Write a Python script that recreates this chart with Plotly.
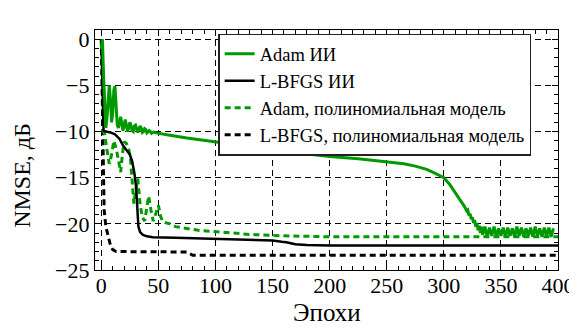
import plotly.graph_objects as go

# ---- data ----
adam_nn_x = [0, 1, 2, 3, 4, 5, 6, 7, 8, 9, 10, 11, 12, 13, 14, 15, 16, 17, 18, 19, 20,
             21, 22, 23, 24, 25, 26, 27, 28, 29, 30, 31, 32, 33, 34, 35, 36, 37, 38, 39,
             40, 41, 42, 43, 44, 45, 46, 48, 50, 60, 75, 100, 125, 150, 175, 200, 225,
             250, 265, 275, 285, 292, 300, 305, 310, 315, 318, 320, 321, 322, 323, 324,
             325, 326, 327, 328, 329, 330, 331, 332, 333, 334, 336, 338, 340, 342, 344,
             346, 348, 350, 352, 354, 356, 358, 360, 362, 364, 366, 368, 370, 372, 374,
             376, 378, 380, 382, 384, 386, 388, 390, 392, 394, 396, 398, 400]
adam_nn_y = [-1.0, 0.0, -4.0, -8.0, -9.6, -8.5, -6.0, -5.0, -6.5, -9.0, -8.0, -5.5, -5.1,
             -7.0, -9.3, -9.6, -8.8, -8.4, -9.2, -9.9, -9.3, -8.7, -9.3, -10.0, -9.6,
             -9.0, -9.3, -9.9, -10.0, -9.4, -9.3, -9.8, -10.1, -9.7, -9.4, -9.6, -10.1,
             -10.0, -9.7, -9.8, -10.15, -10.05, -9.9, -10.0, -10.2, -10.1, -10.05,
             -10.15, -10.2, -10.4, -10.7, -11.1, -11.55, -12.0, -12.35, -12.7, -12.95,
             -13.25, -13.5, -13.75, -14.1, -14.5, -15.0, -15.7, -16.6, -17.6, -18.1,
             -18.6, -18.5, -19.1, -18.9, -19.5, -19.3, -19.9, -19.6, -20.3, -19.9,
             -20.7, -20.2, -21.0, -20.3, -21.2, -20.3, -21.4, -20.4, -21.3, -20.3,
             -21.4, -20.5, -21.3, -20.4, -21.4, -20.4, -21.3, -20.5, -21.4, -20.3,
             -21.3, -20.4, -21.4, -20.5, -21.3, -20.4, -21.4, -20.3, -21.3, -20.5,
             -21.4, -20.4, -21.3, -20.4, -21.4, -20.5]

lbfgs_nn_x = [0, 1, 2, 4, 8, 12, 16, 19, 22, 25, 27, 29, 30.5, 31.5, 32.5, 34, 36.5, 40,
              45, 65, 100, 120, 150, 158, 162, 170, 180, 200, 400]
lbfgs_nn_y = [0.0, -6.0, -9.9, -10.0, -10.1, -10.3, -10.8, -11.5, -12.0, -12.5, -13.2,
              -14.5, -16.0, -18.5, -20.3, -20.9, -21.2, -21.35, -21.45, -21.5, -21.6,
              -21.65, -21.8, -21.95, -22.0, -22.2, -22.3, -22.35, -22.35]

adam_poly_x = [1, 3, 5, 7, 9, 11, 13, 15, 17, 18.5, 20, 22, 24, 25.5, 27, 28.5, 30, 32,
               34, 36, 38, 40, 41.5, 43.5, 45.5, 48, 50, 52, 54, 57, 60, 65, 70, 77, 85,
               96, 115, 130, 160, 200, 400]
adam_poly_y = [-9.8, -10.3, -12.0, -13.5, -12.5, -11.0, -11.8, -13.3, -14.4, -12.5,
               -11.1, -11.3, -11.9, -12.8, -16.0, -17.8, -16.5, -15.1, -17.9, -19.3,
               -19.7, -17.8, -17.0, -18.5, -19.7, -18.8, -18.0, -19.2, -19.8, -19.9,
               -20.0, -20.3, -20.4, -20.6, -20.7, -20.8, -21.0, -21.15, -21.3, -21.4,
               -21.4]

lbfgs_poly_x = [0, 0.8, 1.5, 2.5, 4, 6, 8, 10, 13, 75, 80, 400]
lbfgs_poly_y = [0.0, -8.0, -14.0, -18.5, -20.3, -21.3, -22.3, -22.8, -23.0, -23.05,
                -23.4, -23.4]

labels = ["Adam ИИ", "L-BFGS ИИ", "Adam, полиномиальная модель",
          "L-BFGS, полиномиальная модель"]
x_title = "Эпохи"
y_title = "NMSE, дБ"

GREEN = "#009a00"
BLACK = "#000000"
FONT = "Liberation Serif, Times New Roman, serif"

fig = go.Figure()
fig.add_trace(go.Scatter(x=lbfgs_poly_x, y=lbfgs_poly_y, mode="lines", name=labels[3],
                         line=dict(color=BLACK, width=3, dash="6px,4px"),
                         legendrank=4))
fig.add_trace(go.Scatter(x=adam_poly_x, y=adam_poly_y, mode="lines", name=labels[2],
                         line=dict(color=GREEN, width=3, dash="6px,4px"),
                         legendrank=3))
fig.add_trace(go.Scatter(x=lbfgs_nn_x, y=lbfgs_nn_y, mode="lines", name=labels[1],
                         line=dict(color=BLACK, width=2.5), legendrank=2))
fig.add_trace(go.Scatter(x=adam_nn_x, y=adam_nn_y, mode="lines", name=labels[0],
                         line=dict(color=GREEN, width=3), legendrank=1))

axis_common = dict(
    showline=True, linecolor="black", linewidth=1.3, mirror="allticks",
    ticks="inside", ticklen=6, tickwidth=1, tickcolor="black",
    showgrid=True, gridcolor="black", gridwidth=1, griddash="6px,4px",
    zeroline=False, automargin=False, ticklabeloverflow="allow",
    tickfont=dict(family=FONT, size=22, color="black"),
)

fig.update_xaxes(range=[-5.5, 400], tick0=0, dtick=50, ticklabelstandoff=-5,
                 minor=dict(dtick=10, ticks="inside", ticklen=4, tickcolor="black",
                            showgrid=False),
                 **axis_common)
fig.update_yaxes(range=[-25, 1], tick0=0, dtick=5,
                 minor=dict(dtick=1, ticks="inside", ticklen=4, tickcolor="black",
                            showgrid=False),
                 **axis_common)

fig.add_annotation(text=x_title, xref="paper", yref="paper", x=0.5, y=-0.178,
                   xanchor="center", yanchor="middle", showarrow=False,
                   font=dict(family=FONT, size=25, color="black"))
fig.add_annotation(text=y_title, xref="paper", yref="paper", x=-0.158, y=0.396,
                   xanchor="center", yanchor="middle", showarrow=False, textangle=-90,
                   font=dict(family=FONT, size=24, color="black"))

# page body has an 8px default margin: figure is sized/positioned to compensate
fig.update_layout(
    width=569, height=319,
    margin=dict(l=87, r=19, t=22, b=57),
    paper_bgcolor="white", plot_bgcolor="white",
    showlegend=True,
    legend=dict(x=0.266, y=0.985, xanchor="left", yanchor="top",
                bgcolor="white", bordercolor="#222222", borderwidth=1.5,
                font=dict(family=FONT, size=18.5, color="black"),
                tracegroupgap=0, itemwidth=30),
    font=dict(family=FONT, color="black"),
)

fig.write_html("out.html")
